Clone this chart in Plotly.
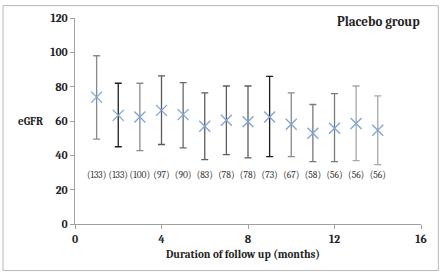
import plotly.graph_objects as go

months = [1, 2, 3, 4, 5, 6, 7, 8, 9, 10, 11, 12, 13, 14]
egfr_mean = [73.9, 63.3, 62.3, 66.2, 63.7, 56.9, 60.4, 59.6, 62.3, 58.1, 52.9, 55.8, 58.5, 54.6]
egfr_upper = [98.0, 82.0, 82.0, 86.3, 82.3, 76.4, 80.4, 80.4, 86.0, 76.4, 69.6, 76.0, 80.4, 74.6]
egfr_lower = [49.4, 45.0, 42.7, 46.3, 44.4, 37.5, 40.4, 38.5, 39.2, 39.2, 36.3, 36.3, 36.9, 34.6]
counts = ["(133)", "(133)", "(100)", "(97)", "(90)", "(83)", "(78)", "(78)", "(73)", "(67)", "(58)", "(56)", "(56)", "(56)"]
bar_colors = ["#8a8a8a", "#1e1e1e", "#8c8c8c", "#5a5a5a", "#6a6a6a", "#5e5e5e", "#5e5e5e",
              "#5e5e5e", "#1e1e1e", "#8a8a8a", "#7a7a7a", "#7a7a7a", "#a8a8a8", "#a8a8a8"]
count_y = 28.3

serif = "Cambria, 'Liberation Serif', 'DejaVu Serif', serif"

fig = go.Figure()
for m, mu, up, lo, c in zip(months, egfr_mean, egfr_upper, egfr_lower, bar_colors):
    fig.add_trace(go.Scatter(
        x=[m], y=[mu], mode="markers",
        marker=dict(symbol="x-thin", size=11, line=dict(width=1.3, color="#7fa3d3"), color="#7fa3d3"),
        error_y=dict(type="data", symmetric=False, array=[up - mu], arrayminus=[mu - lo],
                     color=c, thickness=1.3, width=3.5),
        showlegend=False, hoverinfo="skip"))

fig.add_trace(go.Scatter(
    x=months, y=[count_y] * len(months), mode="text", text=counts,
    textfont=dict(family=serif, size=9.5, color="#333333"),
    showlegend=False, hoverinfo="skip"))

axis_font = dict(family=serif, size=11.5, color="#222222", weight="bold")
fig.update_layout(
    width=444, height=275,
    margin=dict(l=75, r=23, t=16, b=51),
    paper_bgcolor="white", plot_bgcolor="white",
    xaxis=dict(range=[0, 16], tickvals=[0, 4, 8, 12, 16], showgrid=False, zeroline=False,
               showline=True, linecolor="#a0a0a0", linewidth=1, ticks="outside",
               ticklen=4, tickcolor="#a0a0a0", tickfont=axis_font),
    yaxis=dict(range=[0, 120], tickvals=[0, 20, 40, 60, 80, 100, 120], showgrid=False,
               zeroline=False, showline=True, linecolor="#a0a0a0", linewidth=1,
               ticks="outside", ticklen=4, tickcolor="#a0a0a0", tickfont=axis_font),
    shapes=[dict(type="rect", xref="paper", yref="paper",
                 x0=-0.208, x1=1.050, y0=-0.226, y1=1.060,
                 line=dict(color="#b8b8b8", width=1))],
    annotations=[
        dict(text="<b>eGFR</b>", xref="paper", yref="paper", x=(30 - 75) / 346, y=(224 - 120) / 208,
             xanchor="center", yanchor="middle", showarrow=False,
             font=dict(family=serif, size=11, color="#222222")),
        dict(text="<b>Duration of follow up (months)</b>", xref="paper", yref="paper",
             x=(243 - 75) / 346, y=(224 - 255) / 208, xanchor="center", yanchor="middle",
             showarrow=False, font=dict(family=serif, size=11, color="#222222")),
        dict(text="<b>Placebo group</b>", xref="paper", yref="paper",
             x=(422 - 75) / 346, y=(224 - 20) / 208, xanchor="right", yanchor="middle",
             showarrow=False, font=dict(family=serif, size=13, color="#222222")),
    ],
)

fig.write_html("out.html", config={"displayModeBar": False},
               post_script="document.body.style.margin='0';")
